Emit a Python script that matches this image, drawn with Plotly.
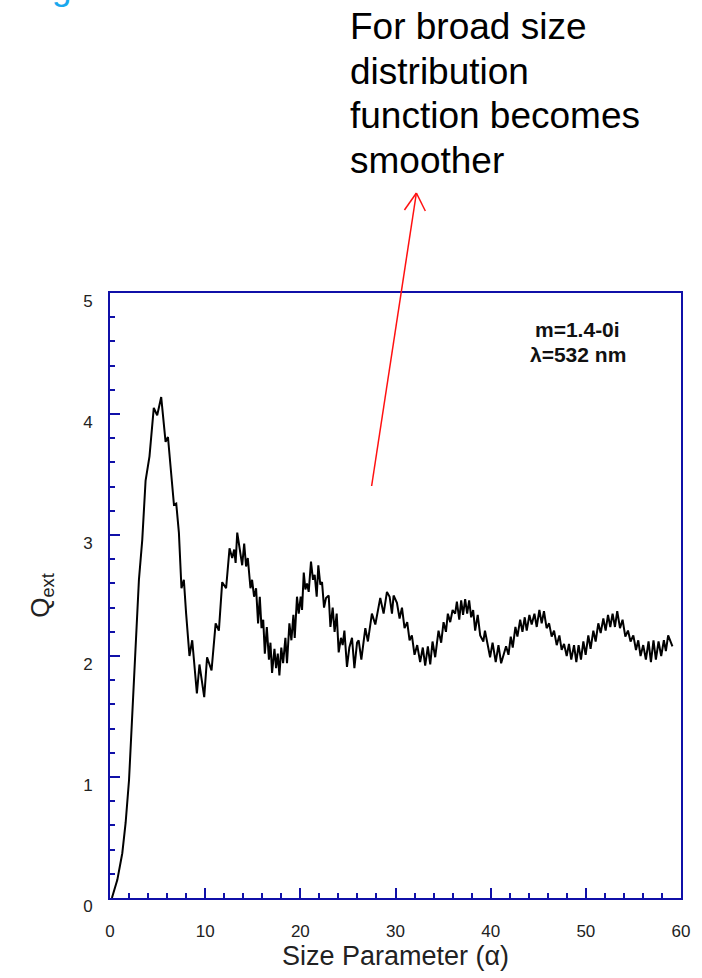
import plotly.graph_objects as go

# Extinction efficiency vs. size parameter (m = 1.4 - 0i, lambda = 532 nm)
alpha = [
    0.2, 0.77, 1.29, 1.64, 2.0, 2.34, 2.69, 3.04, 3.39, 3.74, 4.15, 4.6, 4.96, 5.38,
    5.84, 6.09, 6.37, 6.72, 6.96, 7.24, 7.51, 7.76, 8.0, 8.35, 8.64, 9.13, 9.4, 9.9,
    10.2, 10.67, 11.1,
    11.44, 11.79, 12.2, 12.56, 12.84, 13.05, 13.2, 13.37, 13.6, 13.89, 14.1, 14.3,
    14.48, 14.76, 14.93, 15.14, 15.35, 15.56, 15.74, 15.92, 16.1, 16.27, 16.48, 16.7,
    16.86, 17.03, 17.28, 17.45, 17.63, 17.8, 18.0, 18.19, 18.43, 18.6, 18.85, 19.06,
    19.27, 19.41, 19.65, 19.83, 20.04, 20.18, 20.36, 20.53, 20.7, 20.88, 21.12, 21.33,
    21.51, 21.72, 21.89, 22.1, 22.28, 22.49, 22.7,
    22.98, 23.16, 23.4, 23.6, 23.82, 24.03, 24.27, 24.45, 24.63, 24.9, 25.15, 25.43,
    25.68, 25.96, 26.13, 26.41, 26.83, 27.1, 27.52, 27.88, 28.4, 28.75, 29.1, 29.38,
    29.63, 29.8, 30.15, 30.43, 30.68, 30.95, 31.23, 31.48, 31.72, 32.0, 32.28, 32.59,
    32.87, 33.12, 33.4, 33.65, 33.89, 34.17, 34.52, 34.8, 35.05, 35.3, 35.5, 35.75,
    36.0, 36.27, 36.45, 36.7, 36.9, 37.1, 37.32, 37.53, 37.74, 37.95, 38.16, 38.37,
    38.64, 38.9, 39.23, 39.4, 39.68, 39.94, 40.2, 40.53, 40.82, 41.1,
    41.62, 41.87, 42.11, 42.32, 42.6, 42.81, 43.1, 43.34, 43.58, 43.79, 44.07, 44.31,
    44.6, 44.84, 45.12, 45.36, 45.6, 45.88, 46.14, 46.41, 46.66, 46.94, 47.22, 47.46,
    47.71, 47.99, 48.23, 48.47, 48.76, 49.0, 49.24, 49.49, 49.74, 49.98, 50.26, 50.5,
    50.79, 51.03, 51.31, 51.56, 51.84, 52.08, 52.33, 52.57, 52.81, 53.06, 53.3, 53.59,
    53.86, 54.15, 54.43, 54.7, 54.99, 55.27, 55.51, 55.75, 56.03, 56.31, 56.59, 56.84,
    57.11, 57.36, 57.64, 57.92, 58.2, 58.41, 58.65, 58.9, 59.1,
]
q_ext = [
    0.0, 0.15, 0.37, 0.62, 0.975, 1.53, 2.02, 2.63, 2.96, 3.45, 3.65, 4.05, 3.99, 4.14,
    3.77, 3.81, 3.56, 3.25, 3.26, 3.02, 2.56, 2.63, 2.35, 2.0, 2.13, 1.69, 1.93, 1.66,
    1.99, 1.88, 2.27,
    2.21, 2.61, 2.56, 2.89, 2.81, 2.88, 2.77, 3.02, 2.89, 2.75, 2.93, 2.74,
    2.81, 2.56, 2.63, 2.49, 2.56, 2.27, 2.49, 2.23, 2.30, 2.02, 2.24, 1.97,
    2.11, 1.86, 2.06, 1.90, 2.02, 1.84, 2.07, 1.94, 2.15, 1.94, 2.27, 2.13,
    2.34, 2.15, 2.49, 2.35, 2.49, 2.38, 2.69, 2.55, 2.60, 2.53, 2.78, 2.63,
    2.67, 2.49, 2.75, 2.59, 2.61, 2.40, 2.48,
    2.50, 2.24, 2.40, 2.20, 2.35, 2.03, 2.15, 2.09, 2.21, 1.91, 2.07, 2.15,
    1.90, 2.11, 2.13, 1.97, 2.23, 2.12, 2.35, 2.26, 2.48, 2.35, 2.53, 2.49,
    2.35, 2.50, 2.44, 2.31, 2.40, 2.23, 2.28, 2.13, 2.17, 2.01, 2.09, 1.95,
    2.07, 1.92, 2.08, 1.93, 2.12, 1.99, 2.21, 2.11, 2.28, 2.20, 2.35, 2.28,
    2.38, 2.35, 2.45, 2.30, 2.46, 2.34, 2.47, 2.35, 2.46, 2.32, 2.38, 2.21,
    2.34, 2.17, 2.12, 2.21, 2.11, 1.99, 2.11, 1.95, 2.09, 1.94,
    2.08, 2.01, 2.16, 2.07, 2.24, 2.16, 2.30, 2.20, 2.32, 2.21, 2.34, 2.26,
    2.35, 2.24, 2.38, 2.27, 2.37, 2.23, 2.27, 2.16, 2.21, 2.09, 2.17, 2.05,
    2.10, 2.00, 2.10, 1.97, 2.09, 1.95, 2.09, 1.97, 2.12, 2.01, 2.17, 2.06,
    2.21, 2.12, 2.27, 2.19, 2.31, 2.21, 2.34, 2.24, 2.35, 2.24, 2.37, 2.23,
    2.30, 2.16, 2.21, 2.12, 2.17, 2.05, 2.13, 2.00, 2.09, 1.97, 2.12, 1.95,
    2.13, 1.97, 2.12, 2.00, 2.13, 2.04, 2.17, 2.12, 2.08,
]

x_ticks = [0, 10, 20, 30, 40, 50, 60]
y_ticks = [0, 1, 2, 3, 4, 5]
note_lines = ["For broad size", "distribution", "function becomes", "smoother"]
param_lines = ["m=1.4-0i", "λ=532 nm"]

W, H = 702, 978
L, R, T, B = 110, 18, 293, 80
PW, PH = W - L - R, H - T - B


def px(xp):
    return (xp - L) / PW


def py(yp):
    return (H - B - yp) / PH


AXIS = "#1010a8"
FONT = "Liberation Sans, Arial, sans-serif"
TXT = "#222222"
RED = "#ff1010"

fig = go.Figure(
    go.Scatter(x=alpha, y=q_ext, mode="lines",
               line=dict(color="black", width=2), hoverinfo="skip")
)

axis_common = dict(
    showline=True, linecolor=AXIS, linewidth=2, mirror=True,
    showgrid=False, zeroline=False,
    ticks="inside", tickcolor=AXIS, tickwidth=2, ticklen=10,
    tickfont=dict(family=FONT, size=17, color=TXT),
)

fig.update_xaxes(
    range=[0, 60], tickvals=x_ticks, ticktext=[str(v) for v in x_ticks],
    minor=dict(dtick=2, ticks="inside", ticklen=5, tickcolor=AXIS, tickwidth=2),
    ticklabelstandoff=17,
    title=dict(text="Size Parameter (α)", font=dict(family=FONT, size=27, color=TXT),
               standoff=4),
    **axis_common,
)
fig.update_yaxes(
    range=[0, 5], tickvals=y_ticks, ticktext=[str(v) for v in y_ticks],
    minor=dict(dtick=0.2, ticks="inside", ticklen=5, tickcolor=AXIS, tickwidth=2),
    ticklabelstandoff=12, ticklabelshift=8,
    title=dict(text="Q<sub>ext</sub>", font=dict(family=FONT, size=26, color=TXT),
               standoff=26),
    **axis_common,
)

annotations = []
# Explanatory note above the plot
for i, line in enumerate(note_lines):
    annotations.append(dict(
        text=line, x=px(349), y=py(26 + 45 * i), xref="paper", yref="paper",
        xanchor="left", yanchor="middle", showarrow=False,
        font=dict(family=FONT, size=37, color="black"),
    ))
# Parameter labels in the upper-right corner
for i, line in enumerate(param_lines):
    annotations.append(dict(
        text="<b>" + line + "</b>", x=px(580), y=py(329 + 25 * i),
        xref="paper", yref="paper", xanchor="center", yanchor="middle",
        showarrow=False, font=dict(family=FONT, size=21, color="#111111"),
    ))
# Tail of the slide heading running off the top edge
annotations.append(dict(
    text="g", x=px(61), y=py(-12), xref="paper", yref="paper",
    xanchor="center", yanchor="middle", showarrow=False,
    font=dict(family=FONT, size=35, color="#19a8ee"),
))

# Red pointer: shaft plus an open V head, drawn as paper-referenced lines
tip = (418, 193)
pointer = [((373, 486), tip), ((406, 210), tip), ((427, 211), tip)]
shapes = [
    dict(type="line", xref="paper", yref="paper",
         x0=px(a[0]), y0=py(a[1]), x1=px(b[0]), y1=py(b[1]),
         line=dict(color=RED, width=1.5), layer="above")
    for a, b in pointer
]

fig.update_layout(
    width=W, height=H,
    margin=dict(l=L, r=R, t=T, b=B),
    paper_bgcolor="white", plot_bgcolor="white",
    showlegend=False,
    annotations=annotations,
    shapes=shapes,
)

fig.write_html("out.html")
